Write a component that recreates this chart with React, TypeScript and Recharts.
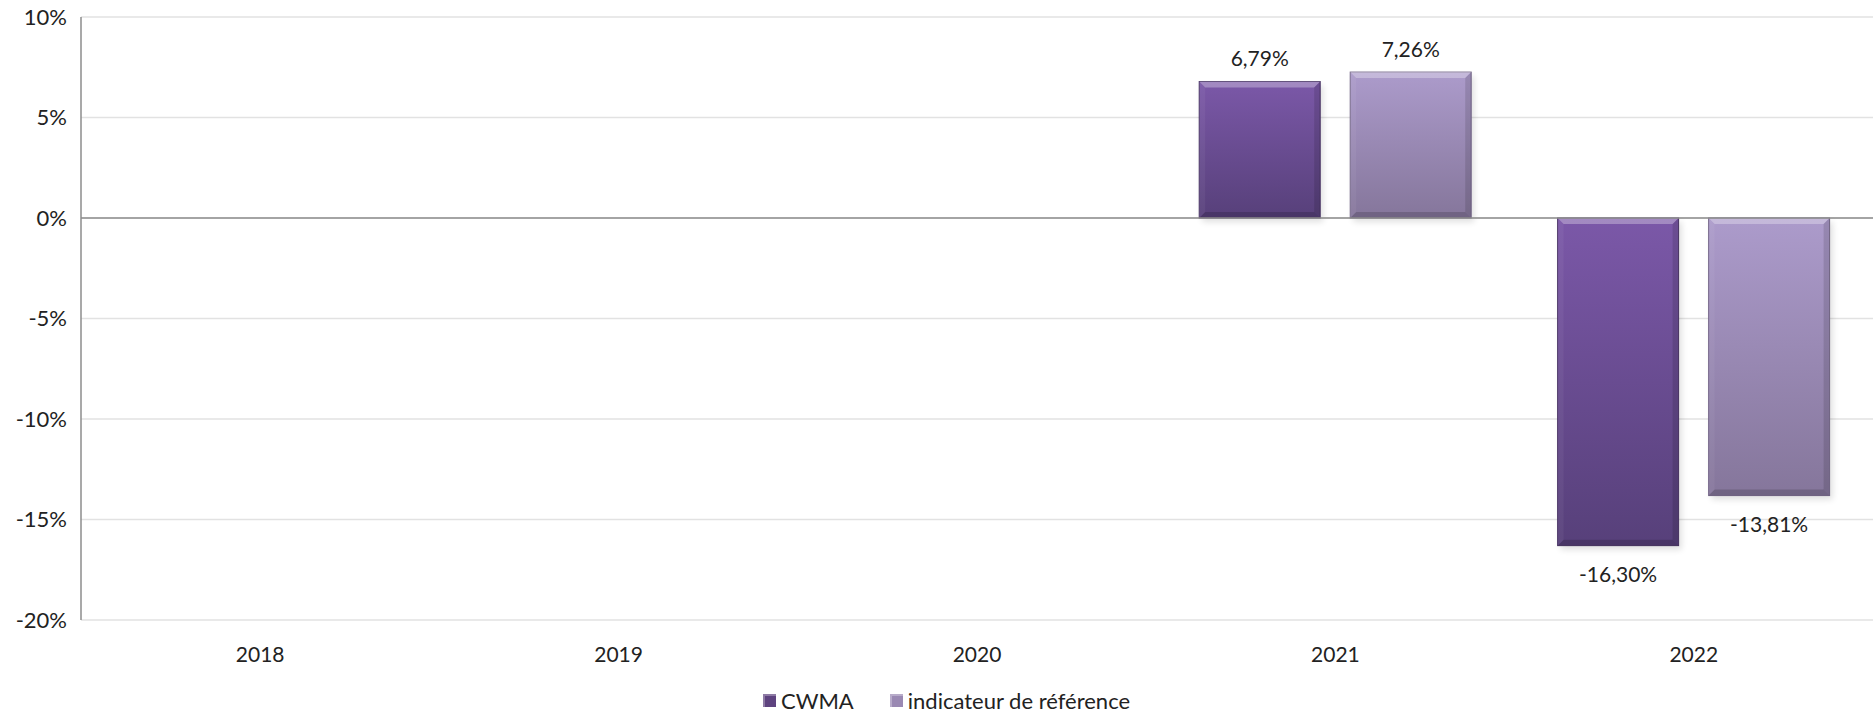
import React from 'react';
import {
  BarChart,
  Bar,
  XAxis,
  YAxis,
  CartesianGrid,
  ReferenceLine,
  Legend,
  LabelList,
} from 'recharts';

if (typeof document !== 'undefined') {
  document.body.style.margin = '0';
}

const years = ['2018', '2019', '2020', '2021', '2022'];
const cwma = [null, null, null, 6.79, -16.3];
const reference = [null, null, null, 7.26, -13.81];
const yTicks = [-20, -15, -10, -5, 0, 5, 10];

const data = years.map((year, i) => ({
  year,
  cwma: cwma[i],
  reference: reference[i],
}));

const FONT = 'Lato, "Open Sans", sans-serif';

const fmt = (v: number) => `${v.toFixed(2).replace('.', ',')}%`;

function BevelBar(props: any) {
  const { x, y, width, height, gradId, edge } = props;
  if (width == null || height == null || !height) return null;
  const top = Math.min(y, y + height);
  const h = Math.abs(height);
  const b = Math.min(6, h / 2, width / 2);
  return (
    <g>
      <rect x={x + 3} y={top + 4} width={width} height={h} fill="#000" opacity={0.12} filter="url(#blur)" />
      <rect x={x} y={top} width={width} height={h} fill={`url(#${gradId})`} stroke={edge} strokeWidth={1} />
      <polygon
        points={`${x},${top} ${x + width},${top} ${x + width - b},${top + b} ${x + b},${top + b}`}
        fill="#fff"
        opacity={0.3}
      />
      <polygon
        points={`${x},${top} ${x + b},${top + b} ${x + b},${top + h - b} ${x},${top + h}`}
        fill="#fff"
        opacity={0.05}
      />
      <polygon
        points={`${x + width},${top} ${x + width - b},${top + b} ${x + width - b},${top + h - b} ${x + width},${top + h}`}
        fill="#000"
        opacity={0.12}
      />
      <polygon
        points={`${x},${top + h} ${x + b},${top + h - b} ${x + width - b},${top + h - b} ${x + width},${top + h}`}
        fill="#000"
        opacity={0.16}
      />
    </g>
  );
}

function ValueLabel(props: any) {
  const { x, y, width, height, value } = props;
  if (value == null) return null;
  const neg = value < 0;
  const cy = neg ? Math.max(y, y + height) + 28 : Math.min(y, y + height) - 24;
  return (
    <text x={x + width / 2} y={cy} textAnchor="middle" dominantBaseline="central" fontSize={21} fontFamily={FONT} fill="#222">
      {fmt(value)}
    </text>
  );
}

function LegendContent() {
  const items = [
    { label: 'CWMA', color: '#5e437f' },
    { label: 'indicateur de référence', color: '#9a89b3' },
  ];
  return (
    <div style={{ display: 'flex', justifyContent: 'center', gap: 36, fontFamily: FONT, fontSize: 22, color: '#222', paddingLeft: 20 }}>
      {items.map((it) => (
        <div key={it.label} style={{ display: 'flex', alignItems: 'center', gap: 5 }}>
          <span style={{ display: 'inline-block', width: 13, height: 13, background: it.color, boxShadow: 'inset 2px 2px 0 rgba(255,255,255,0.3)' }} />
          <span>{it.label}</span>
        </div>
      ))}
    </div>
  );
}

export default function App() {
  return (
    <BarChart
      width={1876}
      height={716}
      data={data}
      margin={{ top: 17, right: 3, left: 0, bottom: 39 }}
      barCategoryGap="12%"
      barGap={30}
    >
      <defs>
        <linearGradient id="gCwma" x1="0" y1="0" x2="0" y2="1">
          <stop offset="0%" stopColor="#7b58a8" />
          <stop offset="100%" stopColor="#57407a" />
        </linearGradient>
        <linearGradient id="gRef" x1="0" y1="0" x2="0" y2="1">
          <stop offset="0%" stopColor="#ac9bcb" />
          <stop offset="100%" stopColor="#85769b" />
        </linearGradient>
        <filter id="blur" x="-10%" y="-10%" width="120%" height="120%">
          <feGaussianBlur stdDeviation="3" />
        </filter>
      </defs>
      <CartesianGrid vertical={false} stroke="#e2e2e2" strokeWidth={1.3} />
      <XAxis
        dataKey="year"
        axisLine={false}
        tickLine={false}
        tick={{ fontSize: 21, fontFamily: FONT, fill: '#222' }}
        tickMargin={21}
      />
      <YAxis
        domain={[-20, 10]}
        ticks={yTicks}
        width={81}
        axisLine={{ stroke: '#8c8c8c', strokeWidth: 1.5 }}
        tickLine={false}
        tickMargin={8}
        tick={{ fontSize: 22, fontFamily: FONT, fill: '#222' }}
        tickFormatter={(v: number) => `${v}%`}
        interval={0}
      />
      <ReferenceLine y={0} stroke="#8c8c8c" strokeWidth={1.5} />
      <Legend verticalAlign="bottom" content={<LegendContent />} wrapperStyle={{ bottom: 2 }} />
      <Bar
        dataKey="cwma"
        name="CWMA"
        isAnimationActive={false}
        shape={(p: any) => <BevelBar {...p} gradId="gCwma" edge="#4a3566" />}
      >
        <LabelList dataKey="cwma" content={<ValueLabel />} />
      </Bar>
      <Bar
        dataKey="reference"
        name="indicateur de référence"
        isAnimationActive={false}
        shape={(p: any) => <BevelBar {...p} gradId="gRef" edge="#756789" />}
      >
        <LabelList dataKey="reference" content={<ValueLabel />} />
      </Bar>
    </BarChart>
  );
}
